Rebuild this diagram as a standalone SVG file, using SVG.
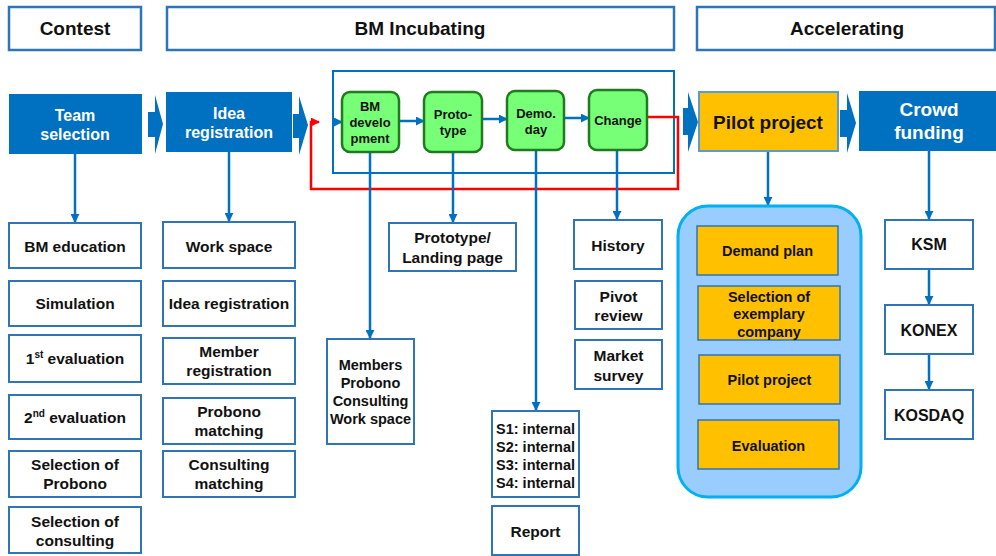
<svg xmlns="http://www.w3.org/2000/svg" width="996" height="556" viewBox="0 0 996 556">
<style>
text{font-family:"Liberation Sans",Arial,sans-serif;font-weight:bold;fill:#111;text-anchor:middle}
.hdr{fill:#fff;stroke:#2E75B6;stroke-width:2.5}
.hdr-t{font-size:19px}
.box{fill:#fff;stroke:#2E75B6;stroke-width:2}
.t15{font-size:15.5px}
.t14{font-size:14.5px}
.blue{fill:#0070C0}
.wt{fill:#fff;font-size:16px}
.green{fill:#77FF77;stroke:#1E7B1E;stroke-width:2.5}
.gt{font-size:13px}
.orange{fill:#FFC000;stroke:#2E75B6;stroke-width:1.5}
.ot{font-size:14.5px}
.conn{fill:none;stroke:#0070C0;stroke-width:2.5}
.chev{fill:#0070C0}
</style>
<defs>
<marker id="ah" viewBox="0 0 10 10" refX="9" refY="5" markerWidth="9" markerHeight="9" markerUnits="userSpaceOnUse" orient="auto"><path d="M0,0 L10,5 L0,10 z" fill="#0070C0"/></marker>
<marker id="ahr" viewBox="0 0 10 10" refX="9" refY="5" markerWidth="9" markerHeight="9" markerUnits="userSpaceOnUse" orient="auto"><path d="M0,0 L10,5 L0,10 z" fill="#FF0000"/></marker>
</defs>

<!-- headers -->
<g id="hdr-contest"><rect class="hdr" x="9" y="7" width="132" height="43"/><text class="hdr-t" x="75" y="35">Contest</text></g>
<g id="hdr-incubating"><rect class="hdr" x="167" y="7" width="507" height="43"/><text class="hdr-t" x="420" y="35">BM Incubating</text></g>
<g id="hdr-accelerating"><rect class="hdr" x="697" y="7" width="298" height="43"/><text class="hdr-t" x="847" y="35">Accelerating</text></g>

<!-- frame -->
<g id="incubating-frame"><rect x="333" y="71" width="341" height="102" fill="none" stroke="#0070C0" stroke-width="2"/></g>

<!-- connectors -->
<g id="connectors">
<polygon class="chev" points="148,112 155,112 155,95 163,124 155,154 155,137 148,137"/>
<polygon class="chev" points="293,114 299,114 299,96 308,125 299,155 299,138 293,138"/>
<polygon class="chev" points="683,108 688,108 688,92 698,122 688,152 688,135 683,135"/>
<polygon class="chev" points="840,110 847,110 847,93 856,123 847,153 847,137 840,137"/>
<line class="conn" x1="333" y1="122" x2="342" y2="122" marker-end="url(#ah)"/>
<line class="conn" x1="399" y1="121" x2="424" y2="121" marker-end="url(#ah)"/>
<line class="conn" x1="482" y1="119" x2="507" y2="119" marker-end="url(#ah)"/>
<line class="conn" x1="564" y1="118" x2="589" y2="118" marker-end="url(#ah)"/>
<path d="M647,117 H678 V189 H311 V122 H319" fill="none" stroke="#FF0000" stroke-width="2.5" marker-end="url(#ahr)"/>
<line class="conn" x1="75" y1="154" x2="75" y2="222" marker-end="url(#ah)"/>
<line class="conn" x1="229" y1="152" x2="229" y2="221" marker-end="url(#ah)"/>
<line class="conn" x1="370" y1="152" x2="370" y2="338" marker-end="url(#ah)"/>
<line class="conn" x1="453" y1="152" x2="453" y2="222" marker-end="url(#ah)"/>
<line class="conn" x1="536" y1="150" x2="536" y2="410" marker-end="url(#ah)"/>
<line class="conn" x1="617" y1="150" x2="617" y2="219" marker-end="url(#ah)"/>
<line class="conn" x1="768" y1="151" x2="768" y2="205" marker-end="url(#ah)"/>
<line class="conn" x1="929" y1="151" x2="929" y2="219" marker-end="url(#ah)"/>
<line class="conn" x1="929" y1="269" x2="929" y2="304" marker-end="url(#ah)"/>
<line class="conn" x1="929" y1="354" x2="929" y2="389" marker-end="url(#ah)"/>
</g>

<!-- main flow -->
<g id="team-selection"><rect class="blue" x="9" y="94" width="133" height="60"/><text class="wt" x="75" y="121">Team</text><text class="wt" x="75" y="140">selection</text></g>
<g id="idea-registration"><rect class="blue" x="166" y="92" width="126" height="60"/><text class="wt" x="229" y="119">Idea</text><text class="wt" x="229" y="138">registration</text></g>
<g id="bm-development"><rect class="green" x="342" y="92" width="57" height="60" rx="8"/><text class="gt" x="370" y="111">BM</text><text class="gt" x="370" y="127">develo</text><text class="gt" x="370" y="143">pment</text></g>
<g id="prototype"><rect class="green" x="424" y="92" width="58" height="60" rx="8"/><text class="gt" x="453" y="119">Proto-</text><text class="gt" x="453" y="135">type</text></g>
<g id="demo-day"><rect class="green" x="507" y="91" width="57" height="59" rx="8"/><text class="gt" x="536" y="118">Demo.</text><text class="gt" x="536" y="134">day</text></g>
<g id="change"><rect class="green" x="589" y="90" width="58" height="60" rx="8"/><text class="gt" x="618" y="125">Change</text></g>
<g id="pilot-project"><rect x="699" y="92" width="139" height="59" fill="#FFC000" stroke="#5B9BD5" stroke-width="2"/><text x="768" y="129" style="font-size:19px">Pilot project</text></g>
<g id="crowd-funding"><rect class="blue" x="859" y="91" width="137" height="60"/><text class="wt" x="929" y="116" style="font-size:19px">Crowd</text><text class="wt" x="929" y="139" style="font-size:19px">funding</text></g>

<!-- contest column -->
<g id="bm-education"><rect class="box" x="9" y="223" width="132" height="45"/><text class="t15" x="75" y="252">BM education</text></g>
<g id="simulation"><rect class="box" x="9" y="281" width="132" height="45"/><text class="t15" x="75" y="309">Simulation</text></g>
<g id="first-evaluation"><rect class="box" x="9" y="335" width="132" height="47"/><text class="t15" x="75" y="364">1<tspan style="font-size:10px" dy="-6">st</tspan><tspan dy="6"> evaluation</tspan></text></g>
<g id="second-evaluation"><rect class="box" x="9" y="395" width="132" height="44"/><text class="t15" x="75" y="423">2<tspan style="font-size:10px" dy="-6">nd</tspan><tspan dy="6"> evaluation</tspan></text></g>
<g id="selection-probono"><rect class="box" x="9" y="451" width="132" height="46"/><text class="t15" x="75" y="470">Selection of</text><text class="t15" x="75" y="489">Probono</text></g>
<g id="selection-consulting"><rect class="box" x="9" y="507" width="132" height="46"/><text class="t15" x="75" y="527">Selection of</text><text class="t15" x="75" y="546">consulting</text></g>

<!-- idea column -->
<g id="work-space"><rect class="box" x="163" y="222" width="132" height="46"/><text class="t15" x="229" y="252">Work space</text></g>
<g id="idea-registration-2"><rect class="box" x="163" y="281" width="132" height="45"/><text class="t15" x="229" y="309">Idea registration</text></g>
<g id="member-registration"><rect class="box" x="163" y="338" width="132" height="46"/><text class="t15" x="229" y="357">Member</text><text class="t15" x="229" y="376">registration</text></g>
<g id="probono-matching"><rect class="box" x="163" y="398" width="132" height="46"/><text class="t15" x="229" y="417">Probono</text><text class="t15" x="229" y="436">matching</text></g>
<g id="consulting-matching"><rect class="box" x="163" y="451" width="132" height="46"/><text class="t15" x="229" y="470">Consulting</text><text class="t15" x="229" y="489">matching</text></g>

<!-- incubating outputs -->
<g id="members"><rect class="box" x="327" y="339" width="87" height="105"/><text class="t14" x="370.5" y="370">Members</text><text class="t14" x="370.5" y="388">Probono</text><text class="t14" x="370.5" y="406">Consulting</text><text class="t14" x="370.5" y="424">Work space</text></g>
<g id="prototype-landing"><rect class="box" x="389" y="223" width="127" height="48"/><text class="t15" x="452.5" y="243">Prototype/</text><text class="t15" x="452.5" y="263">Landing page</text></g>
<g id="stages"><rect class="box" x="492" y="411" width="87" height="86"/><text class="t14" x="535.5" y="434">S1: internal</text><text class="t14" x="535.5" y="452">S2: internal</text><text class="t14" x="535.5" y="470">S3: internal</text><text class="t14" x="535.5" y="488">S4: internal</text></g>
<g id="report"><rect class="box" x="492" y="506" width="87" height="49"/><text class="t15" x="535.5" y="537">Report</text></g>
<g id="history"><rect class="box" x="574" y="220" width="88" height="49"/><text class="t15" x="618" y="251">History</text></g>
<g id="pivot-review"><rect class="box" x="575" y="281" width="87" height="48"/><text class="t15" x="618.5" y="302">Pivot</text><text class="t15" x="618.5" y="321">review</text></g>
<g id="market-survey"><rect class="box" x="575" y="340" width="87" height="49"/><text class="t15" x="618.5" y="361">Market</text><text class="t15" x="618.5" y="381">survey</text></g>

<!-- accelerating -->
<g id="pilot-container"><rect x="678" y="206" width="183" height="291" rx="30" fill="#99CCFF" stroke="#00B0F0" stroke-width="3"/></g>
<g id="demand-plan"><rect class="orange" x="697" y="226" width="141" height="49"/><text class="ot" x="767.5" y="256">Demand plan</text></g>
<g id="selection-exemplary"><rect class="orange" x="698" y="286" width="142" height="54"/><text class="ot" x="769" y="302">Selection of</text><text class="ot" x="769" y="319">exemplary</text><text class="ot" x="769" y="337">company</text></g>
<g id="pilot-project-2"><rect class="orange" x="699" y="355" width="141" height="49"/><text class="ot" x="769.5" y="385">Pilot project</text></g>
<g id="evaluation"><rect class="orange" x="698" y="420" width="141" height="49"/><text class="ot" x="768.5" y="451">Evaluation</text></g>
<g id="ksm"><rect class="box" x="885" y="220" width="88" height="49"/><text class="t15" x="929" y="250" style="font-size:16px">KSM</text></g>
<g id="konex"><rect class="box" x="885" y="305" width="88" height="49"/><text class="t15" x="929" y="336" style="font-size:16px">KONEX</text></g>
<g id="kosdaq"><rect class="box" x="885" y="390" width="88" height="49"/><text class="t15" x="929" y="421" style="font-size:16px">KOSDAQ</text></g>
</svg>
